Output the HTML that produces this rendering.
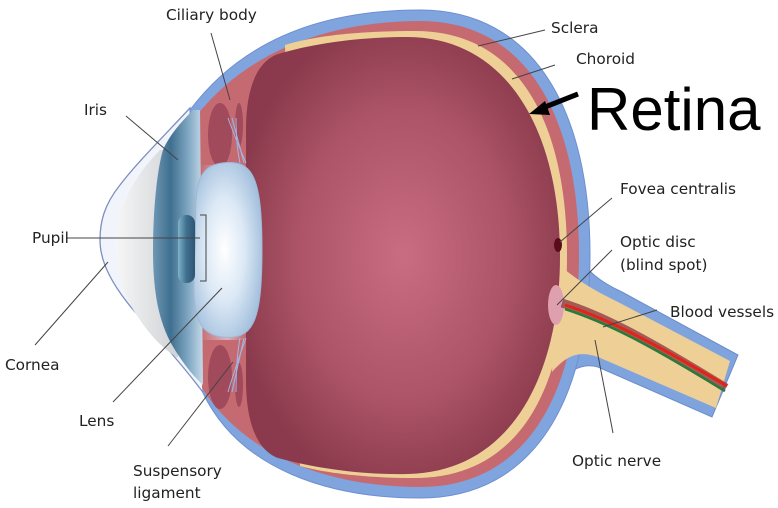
<!DOCTYPE html>
<html><head><meta charset="utf-8"><style>
html,body{margin:0;padding:0;background:#fff;}
svg{display:block;}
text{font-family:"DejaVu Sans","Liberation Sans",sans-serif;font-size:15.3px;fill:#222;}
</style></head><body>
<svg width="778" height="508" viewBox="0 0 778 508" xmlns="http://www.w3.org/2000/svg">
<defs>
<radialGradient id="vit" cx="0.5" cy="0.5" r="0.55">
<stop offset="0" stop-color="#c96d82"/><stop offset="0.6" stop-color="#ad5468"/><stop offset="1" stop-color="#8a3a4c"/>
</radialGradient>
<radialGradient id="lens" cx="0.45" cy="0.5" r="0.6">
<stop offset="0" stop-color="#ffffff"/><stop offset="0.5" stop-color="#dbe8f5"/><stop offset="1" stop-color="#9fbddb"/>
</radialGradient>
<linearGradient id="aq" x1="0" x2="1" y1="0" y2="0">
<stop offset="0" stop-color="#f6f6f6"/><stop offset="1" stop-color="#cfd2d6"/>
</linearGradient>
<linearGradient id="iris" x1="0" x2="1">
<stop offset="0" stop-color="#6f97b5"/><stop offset="0.35" stop-color="#3f6f8f"/><stop offset="0.7" stop-color="#7fa6c2"/><stop offset="1" stop-color="#c5d9e8"/>
</linearGradient>
<linearGradient id="cil" x1="0" x2="1">
<stop offset="0" stop-color="#c66a72"/><stop offset="0.6" stop-color="#e3c4cc"/><stop offset="1" stop-color="#c66a72"/>
</linearGradient>
<linearGradient id="pup" x1="0" x2="1">
<stop offset="0" stop-color="#7fb2c8"/><stop offset="0.5" stop-color="#3f6f8f"/><stop offset="1" stop-color="#2d5570"/>
</linearGradient>
</defs>

<path d="M190,108 C160,140 135,165 120,185 C104,205 100,222 100,240 C100,262 112,285 135,312 C160,340 185,368 205,395 Z" fill="#f1f5fb" stroke="#7d8ec0" stroke-width="1.3"/>
<path d="M160,150 C140,170 124,195 117,225 C113,255 118,290 140,320 C152,338 165,350 178,358 L170,150 Z" fill="url(#aq)"/>

<path d="M572,250 C588,272 600,282 622,292 L738,355 L712,417 L598,367 C580,362 568,372 555,388 Z" fill="#7fa3dc" stroke="#6b8ccc" stroke-width="1"/>
<path d="M190,110 C250,30 340,10 420,10 C535,10 590,112 590,255 C590,398 535,498 420,498 C330,498 240,470 203,393 Z" fill="#80a5de" stroke="#6f8fd0" stroke-width="1"/>
<path d="M197,115 C255,42 345,21 420,21 C527,21 579,117 579,255 C579,393 527,487 420,487 C335,487 248,460 202,388 Z" fill="#c66a72"/>
<path d="M556,262 C578,282 598,292 618,302 L730,361 L716,408 L598,357 C578,350 566,356 552,372 Z" fill="#eed096"/>
<path d="M285,45 C320,34 370,31 415,31 C520,31 567,125 567,256 C567,387 520,478 415,478 C370,478 330,474 300,466 Z" fill="#eed096"/>
<path d="M200,165 L245,165 L245,340 L200,340 Z" fill="url(#cil)" opacity="0.8"/>
<!-- vitreous -->
<path d="M246,130 C246,90 256,62 278,54 C315,43 360,37 408,37 C510,38 560,135 560,256 C560,377 510,472 408,474 C360,475 315,468 278,458 C256,450 246,420 246,380 Z" fill="url(#vit)"/>
<ellipse cx="220" cy="135" rx="12" ry="32" fill="#a04a5b"/>
<ellipse cx="220" cy="377" rx="12" ry="32" fill="#a04a5b"/>
<ellipse cx="239" cy="125" rx="4" ry="22" fill="#a04a5b"/>
<ellipse cx="239" cy="385" rx="4" ry="22" fill="#a04a5b"/>
<g stroke="#9fb8e6" stroke-width="1" fill="none">
<path d="M228,118 Q236,140 246,163"/><path d="M232,118 Q238,140 244,163"/><path d="M236,118 Q236,145 240,163"/>
<path d="M228,392 Q236,365 246,338"/><path d="M232,392 Q238,365 244,338"/><path d="M236,392 Q236,360 240,338"/>
</g>
<path d="M193,110 C178,125 168,138 163,150 C157,170 153,210 153,250 C153,290 158,320 172,345 C182,362 192,375 203,385 L200,110 Z" fill="url(#iris)"/>
<path d="M222,163 C252,159 262,175 262,250 C262,325 252,340 222,337 C190,333 193,300 195,250 C197,200 190,167 222,163 Z" fill="url(#lens)" stroke="#9fb8d8" stroke-width="1"/>
<rect x="178" y="215" width="17" height="68" rx="8" fill="url(#pup)"/>
<ellipse cx="558" cy="245" rx="4" ry="7" fill="#5a0c1c"/>
<ellipse cx="556" cy="305" rx="8" ry="20" fill="#de9fae"/>
<path d="M562,303 C600,315 640,335 726,388" stroke="#8f3e45" stroke-width="9" fill="none" opacity="0.8"/>
<path d="M565,305 C605,318 645,338 727,386" stroke="#e2231a" stroke-width="3" fill="none"/>
<path d="M565,309 C605,322 645,342 725,391" stroke="#2a7a3a" stroke-width="2.5" fill="none"/>

<g stroke="#444" stroke-width="1" fill="none">
<line x1="211" y1="33" x2="230" y2="100"/>
<line x1="545" y1="30" x2="478" y2="46"/>
<line x1="555" y1="65" x2="512" y2="79"/>
<line x1="126" y1="116" x2="178" y2="160"/>
<line x1="66" y1="238" x2="200" y2="238"/>
<path d="M200,215 L206,215 L206,281 L200,281"/>
<line x1="35" y1="345" x2="108" y2="262"/>
<line x1="113" y1="402" x2="222" y2="288"/>
<line x1="168" y1="446" x2="233" y2="362"/>
<line x1="612" y1="198" x2="560" y2="242"/>
<line x1="612" y1="250" x2="557" y2="305"/>
<line x1="657" y1="310" x2="603" y2="327"/>
<line x1="613" y1="433" x2="595" y2="340"/>
</g>
<line x1="578" y1="94" x2="540" y2="109" stroke="#000" stroke-width="5"/>
<polygon points="529,114 545,101 550,115" fill="#000"/>

<text x="166" y="20">Ciliary body</text>
<text x="551" y="33">Sclera</text>
<text x="576" y="64">Choroid</text>
<text x="587" y="130" style="font-family:'Liberation Sans',sans-serif;font-size:60px;fill:#000">Retina</text>
<text x="84" y="115">Iris</text>
<text x="32" y="243">Pupil</text>
<text x="5" y="370">Cornea</text>
<text x="79" y="426">Lens</text>
<text x="133" y="476">Suspensory</text>
<text x="133" y="498">ligament</text>
<text x="620" y="194">Fovea centralis</text>
<text x="620" y="247">Optic disc</text>
<text x="620" y="270">(blind spot)</text>
<text x="670" y="317">Blood vessels</text>
<text x="572" y="466">Optic nerve</text>
</svg>
</body></html>
